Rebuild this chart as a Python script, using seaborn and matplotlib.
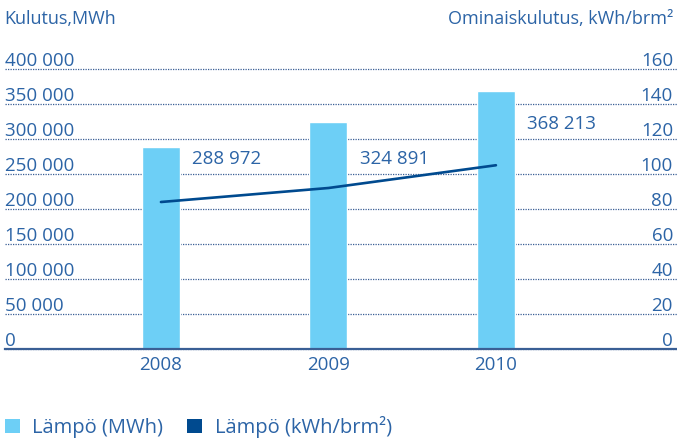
import matplotlib
matplotlib.use("Agg")
import matplotlib.pyplot as plt
import matplotlib.transforms as mtransforms
from matplotlib.patches import Patch
import seaborn as sns
import pandas as pd

# ---- data ----
years = ["2008", "2009", "2010"]
heat_mwh = [288972, 324891, 368213]
heat_kwh_brm2 = [84, 92, 105]
bar_labels = ["288 972", "324 891", "368 213"]
label_y = [271000, 271000, 322000]
left_ticks = [0, 50000, 100000, 150000, 200000, 250000, 300000, 350000, 400000]
left_tick_labels = ["0", "50 000", "100 000", "150 000", "200 000",
                    "250 000", "300 000", "350 000", "400 000"]
right_ticks = [0, 20, 40, 60, 80, 100, 120, 140, 160]
right_tick_labels = ["0", "20", "40", "60", "80", "100", "120", "140", "160"]
left_title = "Kulutus,MWh"
right_title = "Ominaiskulutus, kWh/brm²"
legend_labels = ["Lämpö (MWh)", "Lämpö (kWh/brm²)"]

BAR = "#6dcff6"
LINE = "#004a8f"
TEXT = "#2c64a6"
GRID = "#3a5f95"

sns.set_theme(style="white")
plt.rcParams['font.family'] = ['Open Sans', 'DejaVu Sans']
FS = 13.5
FS_TITLE = 13
FS_LEG = 14.5

W, H = 677, 441
fig = plt.figure(figsize=(W / 100, H / 100), dpi=100)
ax = fig.add_axes([5 / W, 92 / H, 672 / W, 280 / H])

df = pd.DataFrame({"year": years, "mwh": heat_mwh})
sns.barplot(data=df, x="year", y="mwh", color=BAR, saturation=1,
            width=0.227, ax=ax, zorder=3)
ax.set_xlim(-0.931, 3.081)
ax.set_ylim(0, 400000)
ax.set_xlabel("")
ax.set_ylabel("")

for s in ["top", "left", "right"]:
    ax.spines[s].set_visible(False)
ax.spines["bottom"].set_color(GRID)
ax.spines["bottom"].set_linewidth(1.6)
ax.spines["bottom"].set_zorder(5)

ax.set_yticks(left_ticks)
ax.set_yticklabels([])
ax.tick_params(axis="y", length=0)
ax.tick_params(axis="x", length=0, pad=5, labelsize=FS, labelcolor=TEXT)
ax.grid(axis="y", linestyle=(0, (1, 1)), color=GRID, linewidth=0.9)
ax.grid(axis="x", visible=False)
ax.set_axisbelow(True)
for gl in ax.get_ygridlines():
    gl.set_clip_on(False)

trans_l = mtransforms.blended_transform_factory(ax.transAxes, ax.transData)
off = mtransforms.ScaledTranslation(0, 3 / 100, fig.dpi_scale_trans)
for v, lab in zip(left_ticks, left_tick_labels):
    ax.text(0.0, v, lab, transform=trans_l + off, ha="left", va="baseline",
            fontsize=FS, color=TEXT)

for i, (lab, yv) in enumerate(zip(bar_labels, label_y)):
    ax.text(i + 0.187, yv, lab, ha="left", va="center", fontsize=FS, color=TEXT)

ax2 = ax.twinx()
sns.lineplot(x=list(range(len(years))), y=heat_kwh_brm2, ax=ax2,
             color=LINE, linewidth=1.9, zorder=6)
ax2.set_ylim(0, 160)
ax2.set_xlim(-0.931, 3.081)
for s in ax2.spines.values():
    s.set_visible(False)
ax2.set_yticks(right_ticks)
ax2.set_yticklabels([])
ax2.tick_params(axis="y", length=0)
ax2.grid(False)
ax2.patch.set_visible(False)

trans_r = mtransforms.blended_transform_factory(ax2.transAxes, ax2.transData)
off_r = mtransforms.ScaledTranslation(-4 / 100, 3 / 100, fig.dpi_scale_trans)
for v, lab in zip(right_ticks, right_tick_labels):
    ax2.text(1.0, v, lab, transform=trans_r + off_r, ha="right", va="baseline",
             fontsize=FS, color=TEXT)

fig.text(4 / W, 1 - 19 / H, left_title, ha="left", va="center",
         fontsize=FS_TITLE, color=TEXT)
fig.text(673 / W, 1 - 19 / H, right_title, ha="right", va="center",
         fontsize=FS_TITLE, color=TEXT)

handles = [Patch(facecolor=BAR, edgecolor="none"),
           Patch(facecolor=LINE, edgecolor="none")]
leg = fig.legend(handles, legend_labels, loc="center left",
                 bbox_to_anchor=(5 / W, 14 / H), ncol=2, frameon=False,
                 fontsize=FS_LEG, handlelength=0.75, handleheight=0.75,
                 handletextpad=0.6, columnspacing=1.2, borderaxespad=0,
                 borderpad=0)
for t in leg.get_texts():
    t.set_color(TEXT)

fig.savefig("out.png", dpi=100)
